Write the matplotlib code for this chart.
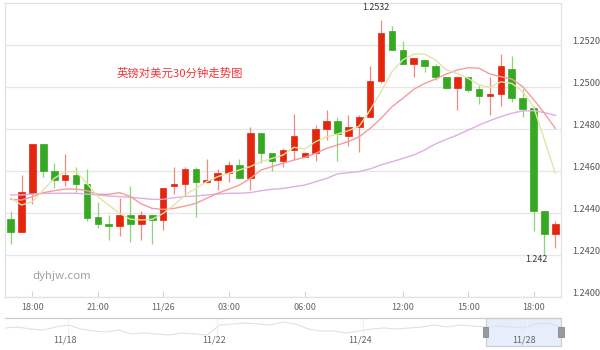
import matplotlib
matplotlib.use("Agg")
import matplotlib.pyplot as plt
import matplotlib.transforms as mtransforms
from matplotlib.patches import Rectangle
import numpy as np

plt.rcParams['font.family'] = ['Noto Sans CJK SC', 'DejaVu Sans']

# ---- data (GBP/USD 30-minute candles) ----
opens = [1.24370, 1.24308, 1.24497, 1.24729, 1.24598, 1.24557, 1.24579, 1.24540, 1.24379, 1.24349,
         1.24338, 1.24389, 1.24349, 1.24389, 1.24368, 1.24530, 1.24540, 1.24608, 1.24548, 1.24557,
         1.24589, 1.24629, 1.24568, 1.24779, 1.24687, 1.24648, 1.24698, 1.24668, 1.24687, 1.24798,
         1.24838, 1.24768, 1.24808, 1.24859, 1.25029, 1.25268, 1.25176, 1.25108, 1.25127, 1.25098,
         1.25048, 1.24997, 1.25048, 1.24989, 1.24957, 1.24965, 1.25087, 1.24946, 1.24898, 1.24408,
         1.24298]
closes = [1.24308, 1.24498, 1.24729, 1.24598, 1.24559, 1.24579, 1.24540, 1.24378, 1.24349, 1.24338,
          1.24389, 1.24349, 1.24389, 1.24368, 1.24519, 1.24540, 1.24608, 1.24548, 1.24557, 1.24589,
          1.24629, 1.24568, 1.24779, 1.24687, 1.24648, 1.24698, 1.24768, 1.24687, 1.24798, 1.24838,
          1.24776, 1.24808, 1.24859, 1.25029, 1.25259, 1.25176, 1.25108, 1.25137, 1.25098, 1.25048,
          1.24994, 1.25048, 1.24986, 1.24957, 1.24967, 1.25098, 1.24946, 1.24897, 1.24408, 1.24298,
          1.24349]
highs = [1.24411, 1.24581, 1.24729, 1.24729, 1.24640, 1.24681, 1.24621, 1.24610, 1.24451, 1.24390,
         1.24470, 1.24530, 1.24410, 1.24389, 1.24519, 1.24621, 1.24621, 1.24621, 1.24659, 1.24608,
         1.24649, 1.24659, 1.24810, 1.24779, 1.24687, 1.24708, 1.24870, 1.24690, 1.24819, 1.24889,
         1.24859, 1.24868, 1.24868, 1.25098, 1.25320, 1.25290, 1.25219, 1.25137, 1.25127, 1.25108,
         1.25048, 1.25048, 1.25048, 1.25008, 1.25048, 1.25157, 1.25148, 1.24989, 1.24910, 1.24408,
         1.24362]
lows = [1.24251, 1.24308, 1.24443, 1.24570, 1.24521, 1.24530, 1.24502, 1.24362, 1.24330, 1.24271,
        1.24290, 1.24260, 1.24271, 1.24251, 1.24319, 1.24490, 1.24481, 1.24381, 1.24545, 1.24510,
        1.24549, 1.24566, 1.24510, 1.24640, 1.24600, 1.24621, 1.24659, 1.24665, 1.24649, 1.24748,
        1.24649, 1.24719, 1.24689, 1.24859, 1.25021, 1.25176, 1.25108, 1.25049, 1.25070, 1.25033,
        1.24989, 1.24890, 1.24978, 1.24919, 1.24868, 1.24910, 1.24930, 1.24859, 1.24313, 1.24200,
        1.24232]
ma5 = [1.24470, 1.24438, 1.24454, 1.24510, 1.24565, 1.24597, 1.24597, 1.24541, 1.24478, 1.24438,
       1.24398, 1.24370, 1.24367, 1.24370, 1.24398, 1.24438, 1.24486, 1.24517, 1.24549, 1.24573,
       1.24589, 1.24605, 1.24621, 1.24644, 1.24660, 1.24676, 1.24713, 1.24705, 1.24740, 1.24763,
       1.24776, 1.24792, 1.24814, 1.24890, 1.24978, 1.25073, 1.25129, 1.25156, 1.25157, 1.25129,
       1.25081, 1.25065, 1.25041, 1.25010, 1.24998, 1.25025, 1.25017, 1.24978, 1.24906, 1.24748,
       1.24589]
ma10 = [1.24465, 1.24462, 1.24478, 1.24497, 1.24506, 1.24514, 1.24514, 1.24506, 1.24489, 1.24489,
        1.24497, 1.24478, 1.24443, 1.24422, 1.24417, 1.24422, 1.24433, 1.24446, 1.24470, 1.24494,
        1.24513, 1.24533, 1.24565, 1.24605, 1.24621, 1.24637, 1.24652, 1.24665, 1.24684, 1.24708,
        1.24724, 1.24740, 1.24763, 1.24803, 1.24851, 1.24906, 1.24946, 1.24989, 1.25017, 1.25038,
        1.25062, 1.25081, 1.25092, 1.25089, 1.25062, 1.25049, 1.25038, 1.25002, 1.24941, 1.24875,
        1.24803]
ma30 = [1.24486, 1.24486, 1.24490, 1.24494, 1.24494, 1.24494, 1.24494, 1.24490, 1.24486, 1.24481,
        1.24478, 1.24475, 1.24470, 1.24465, 1.24465, 1.24473, 1.24478, 1.24481, 1.24486, 1.24490,
        1.24494, 1.24494, 1.24497, 1.24506, 1.24513, 1.24517, 1.24525, 1.24533, 1.24549, 1.24565,
        1.24586, 1.24592, 1.24597, 1.24610, 1.24629, 1.24644, 1.24660, 1.24676, 1.24700, 1.24729,
        1.24751, 1.24771, 1.24795, 1.24819, 1.24840, 1.24859, 1.24875, 1.24886, 1.24887, 1.24878,
        1.24865]
tick_idx = [2, 8, 14, 20, 27, 36, 42, 48]
tick_labels = ['18:00', '21:00', '11/26', '03:00', '06:00', '12:00', '15:00', '18:00']
y_ticks = [1.2400, 1.2420, 1.2440, 1.2460, 1.2480, 1.2500, 1.2520]
title_text = '英镑对美元30分钟走势图'
nav_values = [18, 19, 17, 16, 19, 21, 17, 15, 14, 16, 12, 13, 12, 11, 13, 12, 11, 21, 22, 23,
              22, 21, 24, 22, 17, 15, 15, 13, 15, 17, 18, 17, 18, 19, 21, 19, 21, 20, 19, 20,
              19, 18, 22, 23, 19]
nav_dates = ['11/18', '11/22', '11/24', '11/28']
nav_date_pos = [0.113, 0.381, 0.644, 0.939]

# ---- figure ----
W, H = 600, 350
fig = plt.figure(figsize=(6, 3.5), dpi=100)
ax = fig.add_axes([5 / W, 1 - 297 / H, 556 / W, 294 / H])

RED, GREEN = '#e5260f', '#36a821'
RED_W, GREEN_W = '#f28a80', '#8ed47c'
x = np.arange(len(opens))
o, c, h, l = map(np.array, (opens, closes, highs, lows))
up = c >= o
ax.vlines(x[up], l[up], h[up], color=RED_W, lw=0.9, zorder=2)
ax.vlines(x[~up], l[~up], h[~up], color=GREEN_W, lw=0.9, zorder=2)
bottom = np.minimum(o, c)
height = np.maximum(np.abs(c - o), 0.00004)
ax.bar(x[up], height[up], bottom=bottom[up], width=0.6, color=RED, edgecolor=RED, lw=0.5, zorder=3)
ax.bar(x[~up], height[~up], bottom=bottom[~up], width=0.6, color=GREEN, edgecolor=GREEN, lw=0.5, zorder=3)

ax.plot(x, ma30, color='#dfaee5', lw=1.0, zorder=4)
ax.plot(x, ma10, color='#f59c9c', lw=1.0, zorder=4)
ax.plot(x, ma5, color='#e2e4a8', lw=1.0, zorder=4)

ax.set_xlim(-0.52, len(opens) - 0.48)
ax.set_ylim(1.2400, 1.2540)
ax.set_yticks(y_ticks)
ax.set_yticklabels(['%.4f' % v for v in y_ticks])
ax.yaxis.tick_right()
ax.tick_params(axis='y', length=0, pad=8, labelsize=6.6, labelcolor='#555555')
ax.grid(axis='y', color='#e6e6e6', lw=0.9, zorder=0)
ax.set_axisbelow(True)
for lab in ax.get_yticklabels():
    lab.set_horizontalalignment('left')
    lab.set_transform(lab.get_transform() + mtransforms.ScaledTranslation(0, 3 / 72, fig.dpi_scale_trans))

ax.set_xticks(tick_idx)
ax.set_xticklabels(tick_labels)
ax.tick_params(axis='x', direction='in', length=4.5, width=0.8, color='#ccd6eb',
               pad=4, labelsize=6.5, labelcolor='#666666')
for s in ax.spines.values():
    s.set_color('#dfe3e8')
    s.set_linewidth(0.9)

ax.text(0.2, 0.76, title_text, transform=ax.transAxes, color='#f0363a', fontsize=8.2,
        ha='left', va='center')
ax.text(0.05, 0.07, 'dyhjw.com', transform=ax.transAxes, color='#a0a0a0', fontsize=8.2,
        ha='left', va='center')

imax = int(np.argmax(h))
imin = int(np.argmin(l))
ax.annotate('%.4f' % h[imax], (imax, h[imax]), xytext=(-4, 9), textcoords='offset points',
            ha='center', va='center', fontsize=6.4, color='#333333')
ax.annotate('%g' % round(l[imin], 4), (imin, l[imin]), xytext=(-6, -3), textcoords='offset points',
            ha='center', va='center', fontsize=6.4, color='#333333')

# ---- navigator ----
nav = fig.add_axes([5 / W, 1 - 346 / H, 556 / W, 28 / H])
nav.set_xlim(0, 1)
nav.set_ylim(0, 28)
nx = np.linspace(0, 1, len(nav_values))
nav.plot(nx, nav_values, color='#dae2ec', lw=0.8)
for p, d in zip(nav_date_pos, nav_dates):
    nav.axvline(p, ymin=0.2, ymax=1, color='#eef0f3', lw=0.8)
    nav.text(p - 0.005, 0.22, d, transform=nav.transAxes, ha='center', va='center',
             fontsize=6.5, color='#666666')
for k in ('left', 'right', 'bottom'):
    nav.spines[k].set_visible(False)
nav.spines['top'].set_color('#cccccc')
nav.spines['top'].set_linewidth(0.9)
nav.set_xticks([])
nav.set_yticks([])
nav.patch.set_alpha(0)
sel0 = (485.7 - 5) / 556
nav.add_patch(Rectangle((sel0, 0), 1 - sel0, 1, transform=nav.transAxes,
                        facecolor='#e3edfa', edgecolor='#c3c9d0', lw=0.8, alpha=0.9, clip_on=False, zorder=1))
for hx in (sel0, 1.0):
    nav.add_patch(Rectangle((hx - 0.0045, 0.32), 0.009, 0.36, transform=nav.transAxes,
                            facecolor='#9a9a9a', edgecolor='#888888', lw=0.6, clip_on=False, zorder=5))

fig.savefig('out.png', dpi=100)
